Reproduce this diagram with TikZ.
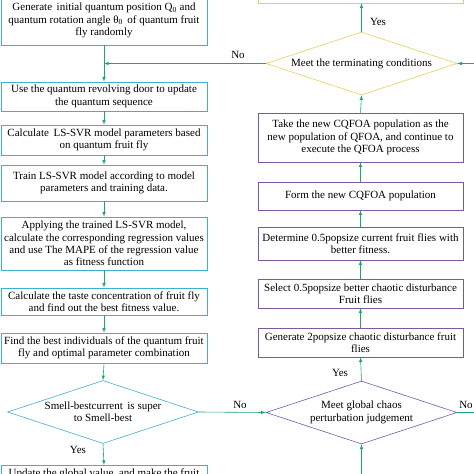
\documentclass[tikz,border=0pt]{standalone}
\usepackage{fontspec}
\setmainfont{Liberation Serif}
\usetikzlibrary{shapes,arrows,positioning}

\definecolor{qblue}{RGB}{62,176,212}
\definecolor{cpurple}{RGB}{122,88,164}
\definecolor{tyellow}{RGB}{229,207,92}
\definecolor{fgreen}{RGB}{28,168,108}

\tikzset{
	txt/.style={font=\fontsize{11}{12.4}\selectfont, text=black},
	qbox/.style={txt, draw=qblue, semithick, rectangle, minimum width=206pt, align=center, inner sep=1pt},
	cbox/.style={txt, draw=cpurple, semithick, rectangle, minimum width=205pt, align=center, inner sep=1pt},
	ybox/.style={draw=tyellow, semithick, rectangle, minimum width=205pt},
	dec/.style={txt, diamond, aspect=3, semithick, align=center, inner sep=0pt, minimum width=191pt, minimum height=63pt},
	flow/.style={draw=fgreen, semithick, -latex},
	lab/.style={txt}
}

\begin{document}
\begin{tikzpicture}[x=1pt, y=-1pt]
\useasboundingbox (0,0) rectangle (474,474);

%left column (quantum fruit fly)
\node[qbox, minimum height=49pt] (gen) at (104,20.5) {Generate\, initial quantum position Q\textsubscript{0} and\\ quantum rotation angle θ\textsubscript{0}\, of quantum fruit\\ fly randomly};
\node[qbox, minimum height=29pt] (door) at (104,96.5) {Use the quantum revolving door to update\\ the quantum sequence};
\node[qbox, minimum height=30pt] (param) at (104,140) {Calculate\, LS-SVR model parameters based\\ on quantum fruit fly};
\node[qbox, minimum height=36pt] (train) at (104,183) {Train LS-SVR model according to model\\ parameters and training data.};
\node[qbox, minimum height=53pt] (apply) at (104,243.5) {Applying the trained LS-SVR model,\\ calculate the corresponding regression values\\ and use The MAPE of the regression value\\ as fitness function};
\node[qbox, minimum height=27pt] (taste) at (104,301.5) {Calculate the taste concentration of fruit fly\\ and find out the best fitness value.};
\node[qbox, minimum height=30pt] (best) at (104,348) {Find the best individuals of the quantum fruit\\ fly and optimal parameter combination};
\node[dec, draw=qblue] (smell) at (103,412) {Smell-bestcurrent\, is super\\ to Smell-best};
\node[qbox, minimum height=30pt, anchor=north, inner ysep=0.5pt] (update) at (104,465) {Update the global value, and make the fruit\\ \phantom{fly}};

%right column (chaos)
\node[ybox, minimum height=46pt] (out) at (360.5,-20) {};
\node[dec, draw=tyellow] (term) at (361.5,63.5) {Meet the terminating conditions};
\node[cbox, minimum height=49pt] (take) at (360.5,137.5) {Take the new CQFOA population as the\\ new population of QFOA, and continue to\\ execute the QFOA process};
\node[cbox, minimum height=28pt] (form) at (360.5,196) {Form the new CQFOA population};
\node[cbox, minimum height=33pt] (determ) at (360.5,243.5) {Determine 0.5popsize current fruit flies with\\ better fitness.};
\node[cbox, minimum height=29pt] (select) at (360.5,293.5) {Select 0.5popsize better chaotic disturbance\\ Fruit flies};
\node[cbox, minimum height=29pt] (gentwo) at (360.5,342.5) {Generate 2popsize chaotic disturbance fruit\\ flies};
\node[dec, draw=cpurple] (chaos) at (361.5,412.5) {Meet global chaos\\ perturbation judgement};

%free ends
\coordinate (join) at (gen.south |- term.west);
\coordinate (rin) at (474,63.5);
\coordinate (bin) at (chaos.south |- 0,474);
\coordinate (rout) at (474,412.5);

%connectors left
\draw[flow] (gen) -- (door);
\draw[flow] (term.west) -- (join);
\draw[flow] (door) -- (param);
\draw[flow] (param) -- (train);
\draw[flow] (train) -- (apply);
\draw[flow] (apply) -- (taste);
\draw[flow] (taste) -- (best);
\draw[flow] (best.south) -- (smell.north);
\draw[flow] (smell.south) -- (update.north);
\draw[flow] (smell.east) -- (chaos.west);

%connectors right
\draw[flow] (term.north) -- (term.north |- out.south);
\draw[flow] (rin) -- (term.east);
\draw[flow] (take.north) -- (term.south);
\draw[flow] (form) -- (take);
\draw[flow] (determ) -- (form);
\draw[flow] (select) -- (determ);
\draw[flow] (gentwo) -- (select);
\draw[flow] (chaos.north) -- (gentwo.south);
\draw[flow] (bin) -- (chaos.south);
\draw[draw=fgreen, semithick] (chaos.east) -- (rout);

%labels
\node[lab] (yesA) at (378,22) {Yes};
\node[lab] (noA) at (238,55) {No};
\node[lab] (noB) at (240,405) {No};
\node[lab] (yesB) at (78,450) {Yes};
\node[lab] (yesC) at (340,373) {Yes};
\node[lab] (noC) at (466,405) {No};
\end{tikzpicture}
\end{document}
